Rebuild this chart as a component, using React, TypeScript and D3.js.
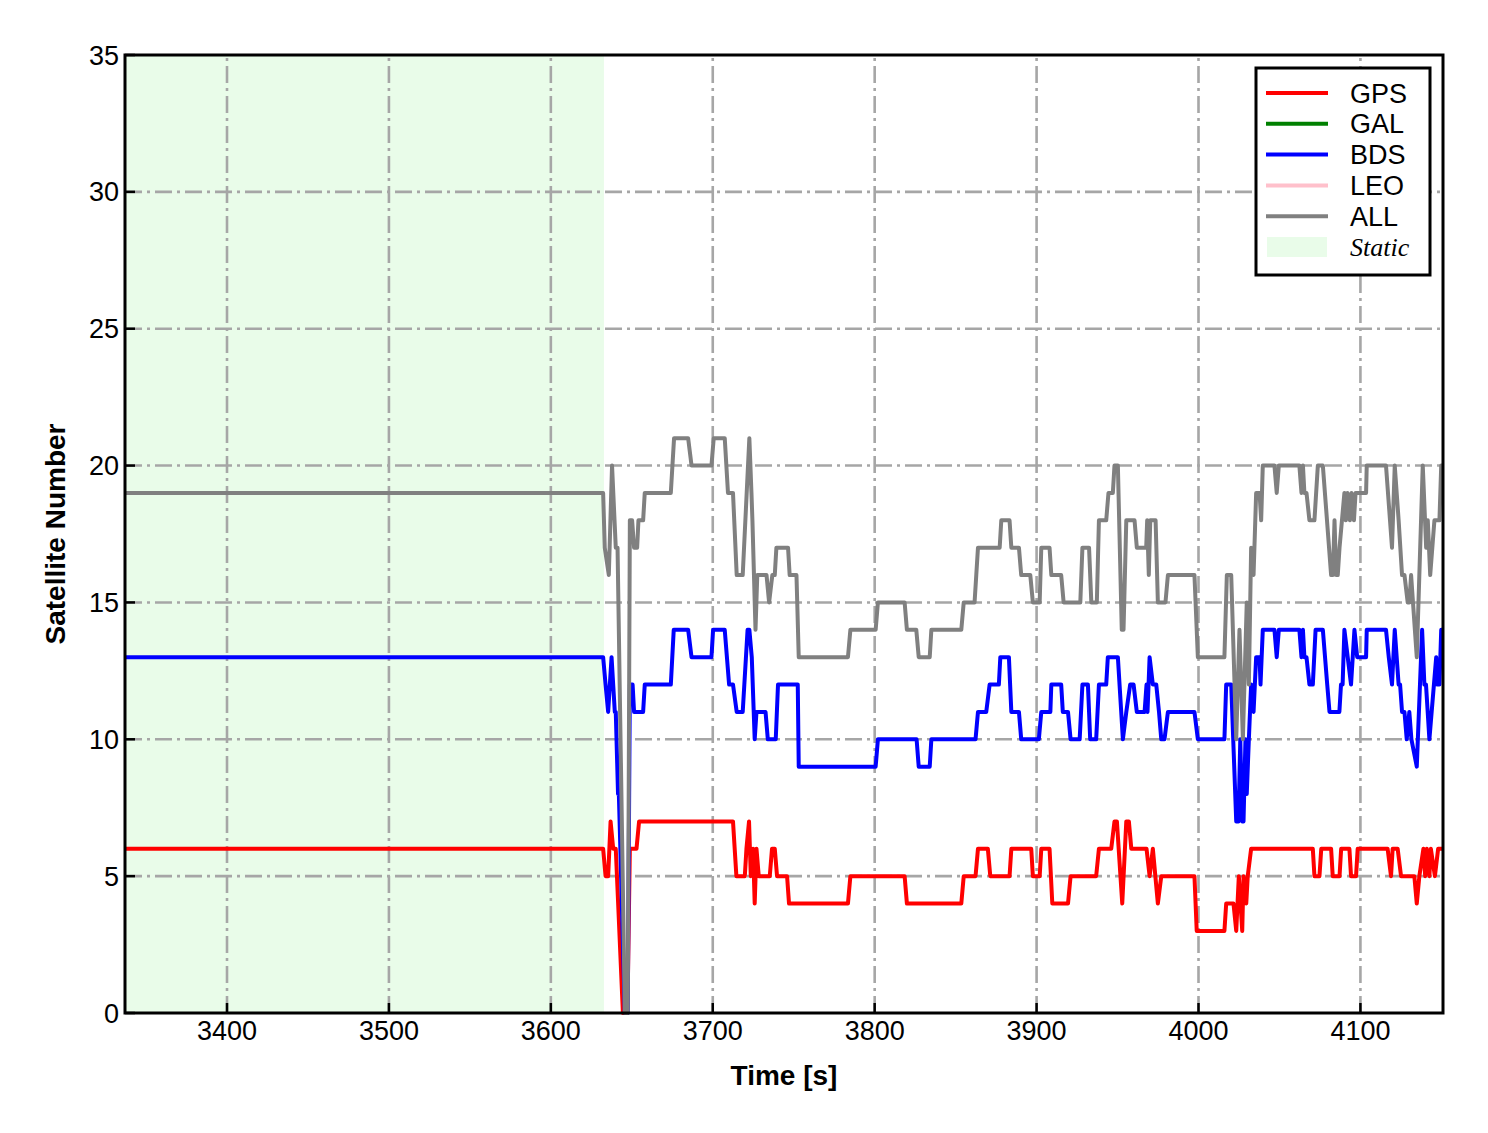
import React, { useEffect } from "react";
import * as d3 from "d3";

// ---- data (time [s], satellite count) ----
const timeDomain: [number, number] = [3337, 4151];
const countDomain: [number, number] = [0, 35];
const xTickValues = [3400, 3500, 3600, 3700, 3800, 3900, 4000, 4100];
const yTickValues = [0, 5, 10, 15, 20, 25, 30, 35];
const staticStart = 3337;
const staticEnd = 3632.8;

const gpsPoints: [number, number][] = [
  [3337, 6], [3632.3, 6], [3633.8, 5], [3635.4, 5], [3636.9, 7], [3638.5, 6], [3640.1, 6], [3644.5, 0], [3647.3, 0],
  [3648.8, 6], [3652.9, 6], [3654.5, 7], [3712.5, 7], [3714.6, 5], [3719.8, 5], [3720.8, 6], [3722.4, 7], [3723.5, 5],
  [3724.9, 6], [3725.9, 4], [3727.0, 6], [3728.4, 5], [3735.2, 5], [3736.6, 6], [3738.3, 6], [3739.7, 5], [3745.9, 5],
  [3747.1, 4], [3783.5, 4], [3785.0, 5], [3818.5, 5], [3819.9, 4], [3853.5, 4], [3855.0, 5], [3862.3, 5], [3863.8, 6],
  [3869.9, 6], [3871.4, 5], [3883.3, 5], [3884.4, 6], [3896.7, 6], [3897.7, 5], [3901.9, 5], [3902.9, 6], [3908.0, 6],
  [3909.7, 4], [3919.4, 4], [3921.0, 5], [3936.8, 5], [3938.5, 6], [3946.1, 6], [3948.1, 7], [3949.6, 7], [3952.9, 4],
  [3955.4, 7], [3957.0, 7], [3958.5, 6], [3967.9, 6], [3969.8, 5], [3971.8, 6], [3974.9, 4], [3977.0, 5], [3997.5, 5],
  [3998.9, 3], [4016.0, 3], [4017.1, 4], [4021.6, 4], [4023.3, 3], [4024.9, 5], [4027.0, 3], [4027.8, 5], [4029.5, 4],
  [4030.4, 5], [4032.5, 6], [4070.6, 6], [4071.6, 5], [4074.7, 5], [4075.8, 6], [4081.9, 6], [4082.9, 5], [4087.1, 5],
  [4088.1, 6], [4093.2, 6], [4094.2, 5], [4097.3, 5], [4098.3, 6], [4116.8, 6], [4118.9, 5], [4119.9, 6], [4123.0, 6],
  [4125.1, 5], [4133.3, 5], [4134.8, 4], [4136.4, 5], [4138.9, 6], [4140.0, 5], [4141.0, 6], [4142.6, 5], [4143.5, 6],
  [4146.0, 5], [4148.0, 6], [4151, 6],
];

const galPoints: [number, number][] = [];
const leoPoints: [number, number][] = [];

const bdsPoints: [number, number][] = [
  [3337, 13], [3632.3, 13], [3633.8, 12], [3635.4, 11], [3637.5, 13], [3639.5, 11], [3640.1, 11], [3641.5, 8], [3642.0, 8],
  [3645.7, 0], [3647.5, 0], [3648.8, 12], [3650.5, 12], [3651.4, 11], [3657.0, 11], [3658.0, 12], [3674.1, 12], [3675.9, 14],
  [3684.8, 14], [3686.9, 13], [3699.2, 13], [3700.2, 14], [3707.4, 14], [3710.1, 12], [3712.5, 12], [3714.8, 11], [3718.5, 11],
  [3721.5, 14], [3722.6, 14], [3724.1, 13], [3725.9, 10], [3727.0, 11], [3732.6, 11], [3734.0, 10], [3738.9, 10], [3740.3, 12],
  [3752.5, 12], [3753.1, 9], [3800.6, 9], [3802.0, 10], [3825.9, 10], [3827.2, 9], [3834.0, 9], [3835.0, 10], [3862.3, 10],
  [3863.8, 11], [3868.9, 11], [3871.0, 12], [3876.7, 12], [3877.6, 13], [3882.9, 13], [3884.4, 11], [3889.1, 11], [3890.5, 10],
  [3901.4, 10], [3902.9, 11], [3908.5, 11], [3909.1, 12], [3915.2, 12], [3916.2, 11], [3919.4, 11], [3921.0, 10], [3926.6, 10],
  [3928.3, 12], [3931.7, 12], [3933.1, 10], [3936.8, 10], [3938.5, 12], [3943.0, 12], [3944.0, 13], [3950.2, 13], [3953.3, 10],
  [3955.4, 11], [3957.8, 12], [3959.9, 12], [3961.9, 11], [3966.7, 11], [3967.9, 12], [3968.5, 11], [3969.8, 13], [3971.8, 12],
  [3973.9, 12], [3975.6, 11], [3977.0, 10], [3979.0, 10], [3981.1, 11], [3997.5, 11], [3999.6, 10], [4016.0, 10], [4017.1, 12],
  [4020.2, 12], [4023.3, 7], [4024.7, 7], [4025.8, 10], [4027.0, 7], [4027.8, 7], [4029.0, 10], [4029.8, 8], [4031.1, 10],
  [4032.5, 12], [4034.0, 11], [4035.6, 13], [4037.7, 13], [4038.3, 12], [4039.7, 14], [4046.9, 14], [4048.3, 13], [4049.6, 14],
  [4062.3, 14], [4063.6, 13], [4064.5, 14], [4065.4, 13], [4066.7, 13], [4068.5, 12], [4070.6, 12], [4072.3, 14], [4076.8, 14],
  [4079.5, 12], [4080.9, 11], [4087.0, 11], [4088.0, 12], [4089.0, 12], [4090.1, 14], [4094.2, 12], [4096.3, 14], [4098.0, 13],
  [4103.5, 13], [4103.9, 14], [4115.8, 14], [4117.5, 13], [4119.5, 12], [4121.2, 14], [4123.6, 12], [4124.5, 12], [4125.7, 11],
  [4127.2, 11], [4128.6, 10], [4130.2, 11], [4131.5, 10], [4134.8, 9], [4138.1, 14], [4139.5, 12], [4140.5, 12], [4142.6, 10],
  [4146.8, 13], [4147.5, 12], [4148.8, 12], [4149.9, 14], [4151, 14],
];

const allPoints: [number, number][] = [
  [3337, 19], [3632.3, 19], [3633.3, 17], [3635.8, 16], [3637.8, 20], [3640.1, 17], [3641.2, 17], [3645.7, 0], [3647.5, 0],
  [3648.8, 18], [3650.2, 18], [3651.4, 17], [3653.3, 17], [3654.1, 18], [3657.0, 18], [3658.0, 19], [3674.1, 19], [3676.1, 21],
  [3684.8, 21], [3686.9, 20], [3699.2, 20], [3700.6, 21], [3707.4, 21], [3709.4, 19], [3712.5, 19], [3714.8, 16], [3718.5, 16],
  [3722.6, 21], [3723.9, 19], [3724.5, 18], [3726.4, 14], [3727.5, 16], [3733.2, 16], [3734.8, 15], [3736.8, 16], [3738.3, 16],
  [3739.3, 17], [3746.5, 17], [3747.5, 16], [3751.7, 16], [3753.1, 13], [3783.5, 13], [3785.0, 14], [3800.6, 14], [3802.0, 15],
  [3818.5, 15], [3819.9, 14], [3825.7, 14], [3827.2, 13], [3834.0, 13], [3835.0, 14], [3853.5, 14], [3855.0, 15], [3861.7, 15],
  [3863.8, 17], [3877.2, 17], [3878.2, 18], [3883.3, 18], [3884.4, 17], [3889.1, 17], [3890.5, 16], [3896.1, 16], [3897.7, 15],
  [3901.9, 15], [3902.9, 17], [3908.0, 17], [3909.1, 16], [3915.2, 16], [3916.7, 15], [3927.0, 15], [3928.3, 17], [3932.4, 17],
  [3933.8, 15], [3937.2, 15], [3938.5, 18], [3943.0, 18], [3944.4, 19], [3947.1, 19], [3948.1, 20], [3950.2, 20], [3952.6, 14],
  [3953.7, 14], [3955.4, 18], [3960.5, 18], [3961.9, 17], [3967.7, 17], [3968.3, 18], [3969.3, 16], [3970.2, 18], [3973.5, 18],
  [3974.9, 15], [3979.6, 15], [3981.1, 16], [3997.5, 16], [3999.6, 13], [4016.0, 13], [4017.5, 16], [4020.2, 16], [4023.3, 10],
  [4025.3, 14], [4027.4, 10], [4029.8, 15], [4031.1, 12], [4032.5, 17], [4034.0, 16], [4035.6, 19], [4037.7, 19], [4038.7, 18],
  [4039.7, 20], [4046.9, 20], [4048.3, 19], [4049.6, 20], [4062.3, 20], [4063.6, 19], [4064.5, 20], [4065.4, 19], [4066.7, 19],
  [4068.5, 18], [4071.6, 18], [4073.7, 20], [4076.8, 20], [4081.9, 16], [4083.0, 16], [4084.0, 18], [4085.0, 16], [4086.0, 16],
  [4087.1, 17], [4090.1, 19], [4091.0, 18], [4092.0, 19], [4093.5, 18], [4094.5, 19], [4096.0, 18], [4097.0, 19], [4103.5, 19],
  [4103.9, 20], [4115.8, 20], [4119.5, 17], [4121.2, 20], [4123.6, 18], [4125.7, 16], [4127.2, 16], [4129.2, 15], [4130.2, 15],
  [4131.3, 16], [4134.8, 13], [4138.5, 20], [4140.6, 17], [4141.6, 18], [4143.1, 16], [4145.7, 18], [4148.8, 18], [4149.9, 20],
  [4151, 20],
];

const seriesNames = ["GPS", "GAL", "BDS", "LEO", "ALL"];
const seriesColors = ["#ff0000", "#008000", "#0000ff", "#ffc0cb", "#808080"];
const seriesData = [gpsPoints, galPoints, bdsPoints, leoPoints, allPoints];
const staticLabel = "Static";
const xLabel = "Time [s]";
const yLabel = "Satellite Number";

const W = 1488;
const H = 1133;
const L = 125, R = 1443, T = 55, B = 1013;
const FONT = "'Liberation Sans', Arial, Helvetica, sans-serif";

export default function App() {
  useEffect(() => {
    document.body.style.margin = "0";
  }, []);

  const x = d3.scaleLinear().domain(timeDomain).range([L, R]);
  const y = d3.scaleLinear().domain(countDomain).range([B, T]);
  const line = d3
    .line<[number, number]>()
    .x((d) => x(d[0]))
    .y((d) => y(d[1]))
    .curve(d3.curveLinear);

  const gridStyle = { stroke: "#a6a6a6", strokeWidth: 2.6, strokeDasharray: "17 5 3 5", fill: "none" };

  const legX = 1256, legY = 68, legW = 174, legH = 207;
  const rowY = (i: number) => 93 + i * 30.8;

  return (
    <svg width={W} height={H} style={{ display: "block", background: "#fff" }} xmlns="http://www.w3.org/2000/svg">
      <defs>
        <clipPath id="plotClip">
          <rect x={L} y={T - 2} width={R - L} height={B - T + 4} />
        </clipPath>
      </defs>
      <rect x={0} y={0} width={W} height={H} fill="#fff" />
      {/* static region */}
      <rect x={x(staticStart)} y={T} width={x(staticEnd) - x(staticStart)} height={B - T} fill="#e9fce9" />
      {/* grid */}
      {xTickValues.map((t) => (
        <line key={"gx" + t} x1={x(t)} x2={x(t)} y1={B} y2={T} {...gridStyle} />
      ))}
      {yTickValues.filter((v) => v > 0 && v < 35).map((v) => (
        <line key={"gy" + v} x1={L} x2={R} y1={y(v)} y2={y(v)} {...gridStyle} />
      ))}
      {/* series */}
      <g clipPath="url(#plotClip)">
        {seriesData.map((pts, i) =>
          pts.length ? (
            <path key={seriesNames[i]} d={line(pts) || ""} fill="none" stroke={seriesColors[i]} strokeWidth={4} strokeLinejoin="round" />
          ) : null
        )}
      </g>
      {/* frame */}
      <rect x={L} y={T} width={R - L} height={B - T} fill="none" stroke="#000" strokeWidth={3} />
      {/* ticks */}
      {xTickValues.map((t) => (
        <g key={"tx" + t}>
          <line x1={x(t)} x2={x(t)} y1={B} y2={B - 10} stroke="#000" strokeWidth={2.5} />
          <text x={x(t)} y={B + 27} textAnchor="middle" fontFamily={FONT} fontSize={27} fill="#000">
            {t}
          </text>
        </g>
      ))}
      {yTickValues.map((v) => (
        <g key={"ty" + v}>
          <line x1={L} x2={L + 10} y1={y(v)} y2={y(v)} stroke="#000" strokeWidth={2.5} />
          <text x={L - 6} y={y(v) + 9.6} textAnchor="end" fontFamily={FONT} fontSize={27} fill="#000">
            {v}
          </text>
        </g>
      ))}
      {/* axis labels */}
      <text x={(L + R) / 2} y={1085} textAnchor="middle" fontFamily={FONT} fontSize={28} fontWeight="bold" fill="#000">
        {xLabel}
      </text>
      <text
        transform={`translate(65, ${(T + B) / 2}) rotate(-90)`}
        textAnchor="middle"
        fontFamily={FONT}
        fontSize={28}
        fontWeight="bold"
        fill="#000"
      >
        {yLabel}
      </text>
      {/* legend */}
      <rect x={legX} y={legY} width={legW} height={legH} fill="#fff" stroke="#000" strokeWidth={3} />
      {seriesNames.map((n, i) => (
        <g key={"leg" + n}>
          <line x1={1266} x2={1328} y1={rowY(i)} y2={rowY(i)} stroke={seriesColors[i]} strokeWidth={4} />
          <text x={1350} y={rowY(i) + 9.6} fontFamily={FONT} fontSize={27} fill="#000">
            {n}
          </text>
        </g>
      ))}
      <rect x={1267} y={rowY(5) - 10} width={60} height={20} fill="#e9fce9" />
      <text x={1350} y={rowY(5) + 9} fontFamily="'Liberation Serif', 'Times New Roman', serif" fontStyle="italic" fontSize={26} fill="#000">
        {staticLabel}
      </text>
    </svg>
  );
}
